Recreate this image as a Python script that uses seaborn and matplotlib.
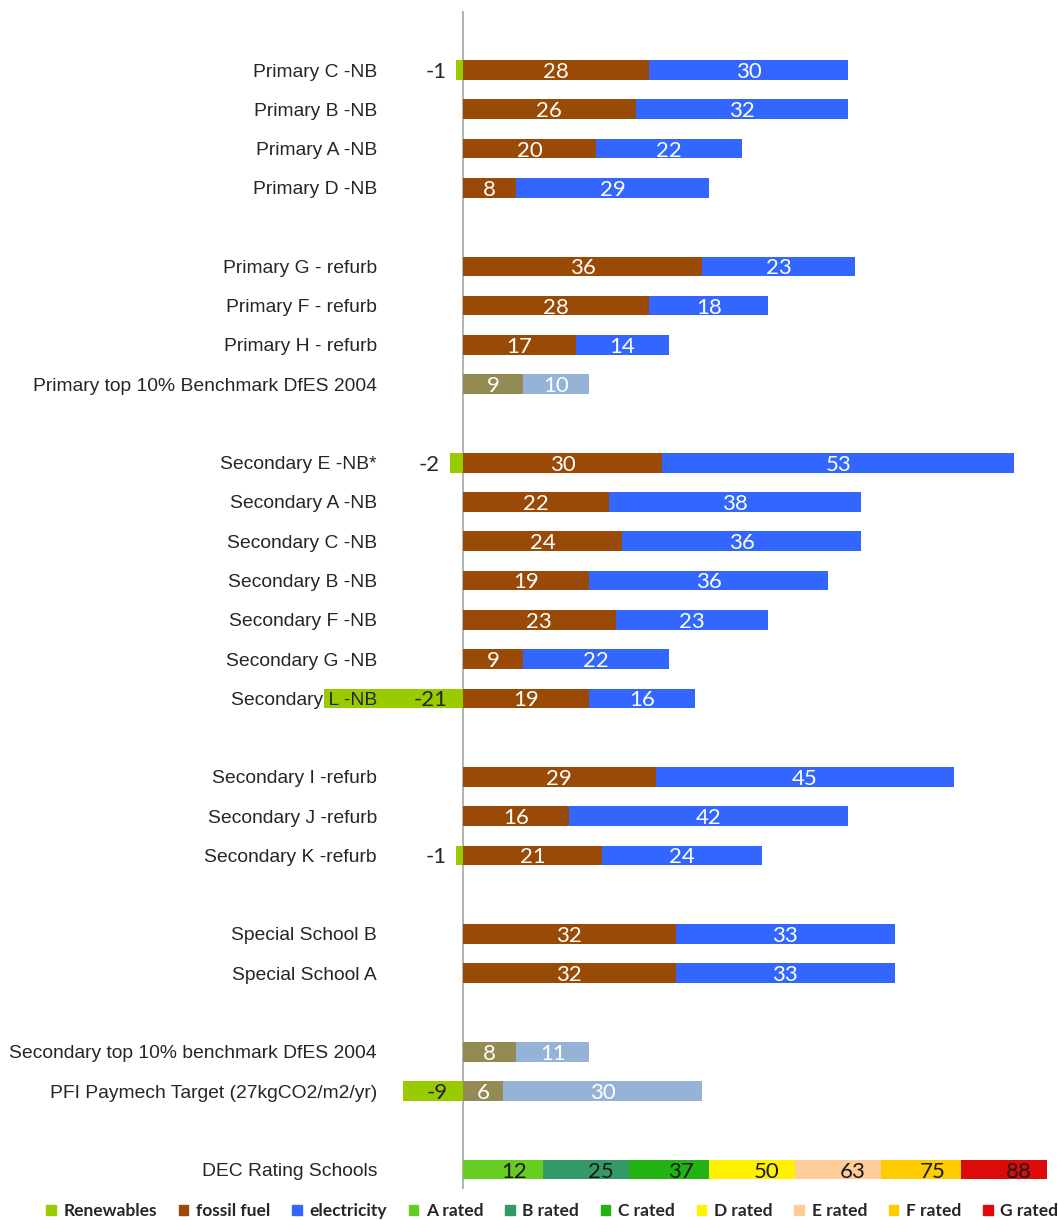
import matplotlib
matplotlib.use("Agg")
import matplotlib.pyplot as plt
from matplotlib.patches import Patch
import pandas as pd
import seaborn as sns

# Row order from top to bottom (whitespace names are spacer rows)
rows = [
    "Primary C -NB", "Primary B -NB", "Primary A -NB", "Primary D -NB", " ",
    "Primary G - refurb", "Primary F - refurb", "Primary H - refurb",
    "Primary top 10% Benchmark DfES 2004", "  ",
    "Secondary E -NB*", "Secondary A -NB", "Secondary C -NB", "Secondary B -NB",
    "Secondary F -NB", "Secondary G -NB", "Secondary L -NB", "   ",
    "Secondary I -refurb", "Secondary J -refurb", "Secondary K -refurb", "    ",
    "Special School B", "Special School A", "     ",
    "Secondary top 10% benchmark DfES 2004",
    "PFI Paymech Target (27kgCO2/m2/yr)", "      ",
    "DEC Rating Schools",
]

# Schools: kgCO2/m2/yr split by source
schools = [
    "Primary C -NB", "Primary B -NB", "Primary A -NB", "Primary D -NB",
    "Primary G - refurb", "Primary F - refurb", "Primary H - refurb",
    "Secondary E -NB*", "Secondary A -NB", "Secondary C -NB", "Secondary B -NB",
    "Secondary F -NB", "Secondary G -NB", "Secondary L -NB",
    "Secondary I -refurb", "Secondary J -refurb", "Secondary K -refurb",
    "Special School B", "Special School A",
]
renewables = [-1, 0, 0, 0, 0, 0, 0, -2, 0, 0, 0, 0, 0, -21, 0, 0, -1, 0, 0]
fossil = [28, 26, 20, 8, 36, 28, 17, 30, 22, 24, 19, 23, 9, 19, 29, 16, 21, 32, 32]
electricity = [30, 32, 22, 29, 23, 18, 14, 53, 38, 36, 36, 23, 22, 16, 45, 42, 24, 33, 33]

# Benchmarks and targets
benchmarks = [
    "Primary top 10% Benchmark DfES 2004",
    "Secondary top 10% benchmark DfES 2004",
    "PFI Paymech Target (27kgCO2/m2/yr)",
]
bench_renewables = [0, 0, -9]
bench_fossil = [9, 8, 6]
bench_electricity = [10, 11, 30]

# DEC rating band upper bounds
dec_row = "DEC Rating Schools"
dec_labels = ["A rated", "B rated", "C rated", "D rated", "E rated", "F rated", "G rated"]
dec_bounds = [12, 25, 37, 50, 63, 75, 88]

C_RENEW = "#99CC00"
C_FOSSIL = "#994A06"
C_ELEC = "#3366FF"
C_BFOSSIL = "#948A54"
C_BELEC = "#95B3D7"
dec_colors = ["#66CC22", "#339966", "#22B214", "#FFF200", "#FFCC99", "#FFCC00", "#DD0A0A"]

sns.set_theme(style="white")
plt.rcParams["font.family"] = ["Liberation Sans", "DejaVu Sans"]

fig = plt.figure(figsize=(10.58, 12.2), dpi=100)
ax = fig.add_axes([297 / 1058, 1 - 1189.2 / 1220, (1054 - 297) / 1058, (1189.2 - 11.1) / 1220])


def layer(names, values, color):
    df = pd.DataFrame({"row": names, "value": values})
    df = df[df["value"] != 0]
    sns.barplot(data=df, x="value", y="row", order=rows, orient="h", color=color,
                saturation=1, width=0.5, linewidth=0, errorbar=None, ax=ax)


VAL_FONT = dict(family=["Lato", "DejaVu Sans"], fontsize=16, va="center")
DY = 0.05  # nudge digits down to sit centred in the bars

# School bars: totals first, fossil drawn over them
school_tot = [f + e for f, e in zip(fossil, electricity)]
layer(schools, school_tot, C_ELEC)
layer(schools, fossil, C_FOSSIL)
layer(schools, renewables, C_RENEW)

bench_tot = [f + e for f, e in zip(bench_fossil, bench_electricity)]
layer(benchmarks, bench_tot, C_BELEC)
layer(benchmarks, bench_fossil, C_BFOSSIL)
layer(benchmarks, bench_renewables, C_RENEW)

# DEC bands: widest first so each narrower band sits on top
for bound, col in reversed(list(zip(dec_bounds, dec_colors))):
    layer([dec_row], [bound], col)

# Value labels
for names, ren, fos, ele in [(schools, renewables, fossil, electricity),
                             (benchmarks, bench_renewables, bench_fossil, bench_electricity)]:
    for n, r, f, e in zip(names, ren, fos, ele):
        y = rows.index(n) + DY
        ax.text(f / 2, y, str(f), ha="center", color="white", zorder=6, **VAL_FONT)
        ax.text(f + e / 2, y, str(e), ha="center", color="white", zorder=6, **VAL_FONT)
        if r != 0:
            # short bars get their label just outside, long ones inside near zero
            xr = r - 1.5 if r > -3 else -2.3
            ax.text(xr, y, str(r), ha="right", color="#262626", zorder=6, **VAL_FONT)

ydec = rows.index(dec_row) + DY
for bound in dec_bounds:
    ax.text(bound - 2.3, ydec, str(bound), ha="right", color="#1a1a1a", zorder=6, **VAL_FONT)

ax.axvline(0, color="#a6a6a6", lw=1.2, zorder=0.5)

ax.set_xlim(-25, 89)
ax.set_ylim(len(rows) - 0.5, -1.5)
ax.set_xlabel("")
ax.set_ylabel("")
ax.set_xticks([])
for s in ax.spines.values():
    s.set_visible(False)
ax.tick_params(axis="y", length=0, pad=-57.6, labelsize=13.85, labelcolor="#262626")
ax.yaxis.set_zorder(7)

handles = [Patch(color=C_RENEW, label="Renewables"),
           Patch(color=C_FOSSIL, label="fossil fuel"),
           Patch(color=C_ELEC, label="electricity")]
handles += [Patch(color=c, label=l) for c, l in zip(dec_colors, dec_labels)]
fig.legend(handles=handles, loc="center", bbox_to_anchor=(0.522, 1 - 1211 / 1220),
           ncol=len(handles), frameon=False, handlelength=0.55, handleheight=0.55,
           handletextpad=0.45, columnspacing=1.25,
           prop=dict(family=["Lato", "DejaVu Sans"], size=12.5, weight="bold"),
           labelcolor="#262626")

fig.savefig("out.png", dpi=100, facecolor="white")
